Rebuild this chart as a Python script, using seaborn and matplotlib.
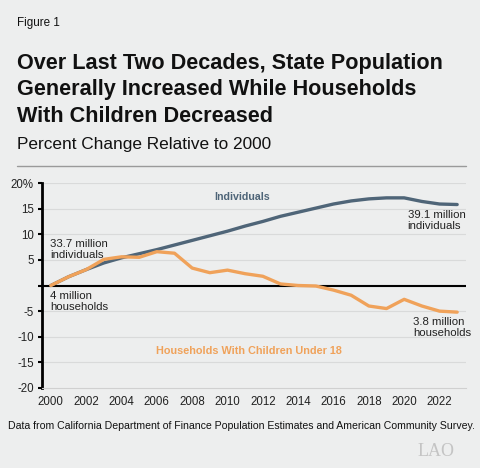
import numpy as np
import pandas as pd
import matplotlib.pyplot as plt
import seaborn as sns

# Werte (Prozent gegenueber 2000)
years = list(range(2000, 2024))
individuals = [0, 1.7, 3.1, 4.4, 5.4, 6.2, 7.0, 7.9, 8.8, 9.7, 10.6, 11.6,
               12.5, 13.5, 14.3, 15.1, 15.9, 16.5, 16.9, 17.1, 17.1, 16.4, 15.9, 15.8]
households = [0, 1.7, 3.1, 5.1, 5.6, 5.5, 6.6, 6.3, 3.4, 2.5, 3.0, 2.3,
              1.8, 0.3, 0.0, -0.1, -0.9, -1.9, -4.0, -4.5, -2.7, -4.0, -5.0, -5.2]
y_ticks = [20, 15, 10, 5, 0, -5, -10, -15, -20]
y_labels = ["20%", "15", "10", "5", "", "-5", "-10", "-15", "-20"]
x_labels = list(range(2000, 2024, 2))

bg = "#EDEEEE"
slate = "#4F6578"
orange = "#F0A25A"

W, H = 481, 468
sns.set_style("white")
plt.rcParams["font.family"] = ["Liberation Sans", "DejaVu Sans"]

fig = plt.figure(figsize=(W / 100, H / 100), dpi=100, facecolor=bg)


def fx(px):
    return px / W


def fy(py):
    return 1 - py / H


ax = fig.add_axes([fx(42), fy(388), fx(466) - fx(42), fy(183) - fy(388)])
ax.set_facecolor(bg)

df = pd.DataFrame({"year": years, "ind": individuals, "hh": households})
for yt in y_ticks:
    if yt != 0 and yt != -20:
        ax.axhline(yt, color="#D9DADA", lw=0.8, zorder=0)
ax.axhline(0, color="black", lw=1.5, zorder=1)
sns.lineplot(data=df, x="year", y="ind", color=slate, lw=2.4, ax=ax, zorder=3)
sns.lineplot(data=df, x="year", y="hh", color=orange, lw=2.4, ax=ax, zorder=3)

ax.set_xlim(1999.5, 2023.5)
ax.set_ylim(-20, 20)
ax.set_yticks(y_ticks)
ax.set_yticklabels(y_labels, fontsize=8.3, color="#222222")
ax.set_xticks(x_labels)
ax.set_xticklabels([str(x) for x in x_labels], fontsize=8.3, color="#222222")
ax.set_xticks(np.arange(1999.5, 2024, 1), minor=True)
ax.tick_params(axis="x", which="major", length=0, pad=6)
ax.tick_params(axis="x", which="minor", length=3, color="#C8C8C8", width=0.8)
ax.tick_params(axis="y", length=3, color="black", width=1.5, pad=3, left=True)
ax.set_xlabel("")
ax.set_ylabel("")
for s in ["top", "right"]:
    ax.spines[s].set_visible(False)
ax.spines["left"].set_linewidth(2)
ax.spines["left"].set_color("black")
ax.spines["bottom"].set_color("#D0D0D0")
ax.spines["bottom"].set_linewidth(0.8)

# Beschriftungen in der Grafik
ax.text(2010.85, 17.2, "Individuals", color=slate, fontsize=7.7, fontweight="bold", ha="center", va="center")
ax.text(2011.2, -12.7, "Households With Children Under 18", color=orange, fontsize=7.8,
        fontweight="bold", ha="center", va="center")
ax.text(1999.95, 7.0, "33.7 million\nindividuals", fontsize=8.2, color="#222222", ha="left", va="center",
        linespacing=1.12)
ax.text(1999.95, -3.1, "4 million\nhouseholds", fontsize=8.2, color="#222222", ha="left", va="center",
        linespacing=1.12)
ax.text(2020.2, 12.6, "39.1 million\nindividuals", fontsize=8.2, color="#222222", ha="left", va="center",
        linespacing=1.12)
ax.text(2020.5, -8.2, "3.8 million\nhouseholds", fontsize=8.2, color="#222222", ha="left", va="center",
        linespacing=1.12)

# Kopfbereich
fig.text(fx(17), fy(23), "Figure 1", fontsize=8.4, color="#111111", va="center")
title_lines = ["Over Last Two Decades, State Population",
               "Generally Increased While Households",
               "With Children Decreased"]
for i, line in enumerate(title_lines):
    fig.text(fx(17), fy(64 + 26 * i), line, fontsize=15.6, fontweight="bold", color="#111111", va="center")
fig.text(fx(17), fy(144), "Percent Change Relative to 2000", fontsize=12.4, color="#111111", va="center")
fig.add_artist(plt.Line2D([fx(17), fx(466)], [fy(166), fy(166)], color="#9A9A9A", lw=1.0))

fig.text(fx(8), fy(426), "Data from California Department of Finance Population Estimates and American Community Survey.",
         fontsize=7.6, color="#111111", va="center")
fig.text(fx(455), fy(451), "LAO", fontsize=13, color="#C4C4C4", family="Liberation Serif", ha="right", va="center")

fig.savefig("out.png", dpi=100, facecolor=bg)
